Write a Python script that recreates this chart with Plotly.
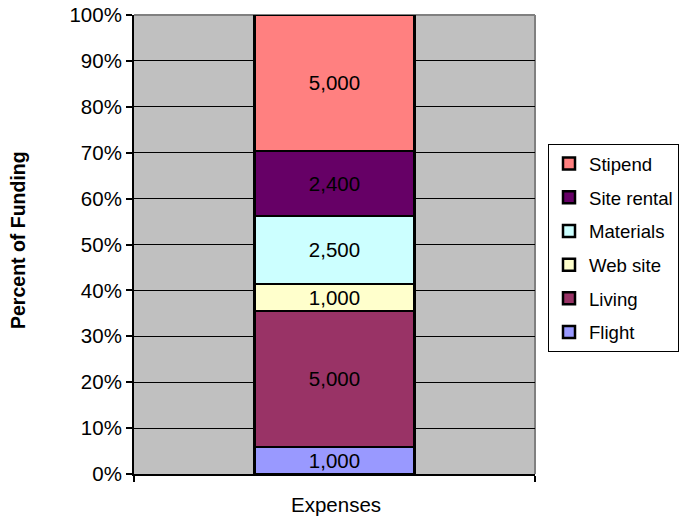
import plotly.graph_objects as go

categories = ["Expenses"]
series_names = ["Flight", "Living", "Web site", "Materials", "Site rental", "Stipend"]
series_values = [1000, 5000, 1000, 2500, 2400, 5000]
series_colors = ["#9999FF", "#993366", "#FFFFCC", "#CCFFFF", "#660066", "#FF8080"]
y_tick_vals = [0, 10, 20, 30, 40, 50, 60, 70, 80, 90, 100]
y_tick_text = [f"{v}%" for v in y_tick_vals]

FONT = "Arial, Liberation Sans, sans-serif"
FS = 20.5

fig = go.Figure()
n = len(series_names)
for i, (name, val, col) in enumerate(zip(series_names, series_values, series_colors)):
    fig.add_trace(go.Bar(
        x=[0], y=[val], name=name,
        marker=dict(color=col, line=dict(color="black", width=2.5)),
        width=0.4,
        text=[f"{val:,}"], textposition="inside", insidetextanchor="middle",
        textangle=0, constraintext="none",
        insidetextfont=dict(color="black", size=FS, family=FONT),
        legendgroup=f"g{i}", legendrank=n - i, hoverinfo="skip",
    ))

fig.update_layout(
    width=687, height=522,
    barmode="stack", barnorm="percent",
    paper_bgcolor="white", plot_bgcolor="#C0C0C0",
    margin=dict(l=134, r=152, t=15, b=48, autoexpand=False),
    font=dict(family=FONT, size=FS, color="black"),
    showlegend=True,
    legend=dict(
        x=(548 - 134) / 401, xanchor="left",
        y=(474 - 144) / 459, yanchor="top",
        bordercolor="black", borderwidth=1, bgcolor="white",
        traceorder="grouped", tracegroupgap=6.5,
        font=dict(size=18.6, family=FONT, color="black"),
    ),
    xaxis=dict(
        range=[-0.5, 0.5], tickvals=[-0.5, 0.5], ticktext=["", ""],
        ticks="outside", ticklen=6, tickwidth=1.5, tickcolor="black",
        showline=True, linecolor="black", linewidth=2, showgrid=False,
        zeroline=False, fixedrange=True,
    ),
    yaxis=dict(
        range=[0, 100], tickvals=y_tick_vals, ticktext=y_tick_text,
        ticks="outside", ticklen=6, tickwidth=1.5, tickcolor="black",
        showline=True, linecolor="black", linewidth=2,
        showgrid=True, gridcolor="black", gridwidth=1, zeroline=False,
        tickfont=dict(size=FS), fixedrange=True,
    ),
    shapes=[
        dict(type="line", xref="paper", yref="paper", x0=0, x1=1, y0=1, y1=1,
             line=dict(color="#808080", width=2), layer="below"),
        dict(type="line", xref="paper", yref="paper", x0=1, x1=1, y0=0, y1=1,
             line=dict(color="#808080", width=2), layer="below"),
    ],
    annotations=[
        dict(text="<b>Percent of Funding</b>", xref="paper", yref="paper",
             x=(18 - 134) / 401, y=(474 - 240) / 459, xanchor="center", yanchor="middle",
             textangle=-90, showarrow=False, font=dict(size=19.5, family=FONT, color="black")),
        dict(text=categories[0], xref="paper", yref="paper",
             x=(336 - 134) / 401, y=(474 - 504) / 459, xanchor="center", yanchor="middle",
             showarrow=False, font=dict(size=FS, family=FONT, color="black")),
    ],
)

# remove the browser's default 8px body margin so the figure sits at the page corner
fig.write_html("out.html", config={"displayModeBar": False},
               post_script="document.body.style.margin='0';")
